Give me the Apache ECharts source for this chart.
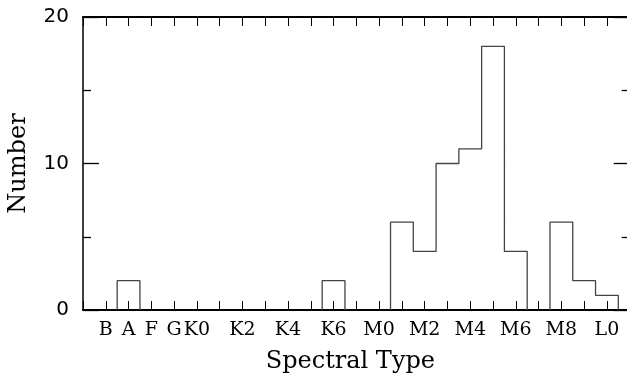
<!DOCTYPE html>
<html lang="en">

<head>
    <meta charset="UTF-8">
    <title>Spectral Type Histogram</title>
    <script type="text/javascript" src="https://cdn.jsdelivr.net/npm/echarts@6.0.0/dist/echarts.min.js"></script>
</head>

<body style="margin:0;">
<div id="main" style="width:627px;height:381px;"></div>
</body>
<script type="text/javascript">
    // one bin per spectral subtype, index 0 = B ... 22 = L0
    const spectralTypes = ['B', 'A', 'F', 'G', 'K0', 'K1', 'K2', 'K3', 'K4', 'K5', 'K6', 'K7',
        'M0', 'M1', 'M2', 'M3', 'M4', 'M5', 'M6', 'M7', 'M8', 'M9', 'L0'];
    const counts = [0, 2, 0, 0, 0, 0, 0, 0, 0, 0, 2, 0,
        0, 6, 4, 10, 11, 18, 4, 0, 6, 2, 1];
    // labels written under the axis
    const tickLabels = ['B', 'A', 'F', 'G', 'K0', 'K2', 'K4', 'K6', 'M0', 'M2', 'M4', 'M6', 'M8', 'L0'];

    // outline of the histogram, broken where the count drops to zero
    const stepData = [];
    counts.forEach((c, i) => {
        if (c === 0) return;
        const prev = i > 0 ? counts[i - 1] : 0;
        const next = i < counts.length - 1 ? counts[i + 1] : 0;
        if (prev === 0) stepData.push([i - 0.5, 0]);
        stepData.push([i - 0.5, c], [i + 0.5, c]);
        if (next === 0) stepData.push([i + 0.5, 0], [i + 0.5, '-']);
    });

    const myChart = echarts.init(document.getElementById('main'));

    const tickStyle = {color: '#000', width: 1};
    const xAxisBase = {
        type: 'value',
        min: -1,
        max: 23,
        interval: 1,
        splitLine: {show: false},
        axisLine: {onZero: false, lineStyle: {color: '#000', width: 2}},
        axisTick: {inside: true, length: 9, lineStyle: tickStyle},
    };
    const yAxisBase = {
        type: 'value',
        min: 0,
        max: 20,
        interval: 10,
        splitLine: {show: false},
        axisLine: {show: true, onZero: false, lineStyle: {color: '#000', width: 1.5}},
        axisTick: {inside: true, length: 16, lineStyle: {color: '#000', width: 1.3}},
        minorTick: {show: true, splitNumber: 2, length: 8, lineStyle: {color: '#000', width: 1.3}},
        minorSplitLine: {show: false},
    };

    const option = {
        backgroundColor: '#fff',
        animation: false,
        grid: {left: 83, top: 17, width: 546.7, height: 293, containLabel: false, outerBoundsMode: 'none'},
        xAxis: [Object.assign({}, xAxisBase, {
            position: 'bottom',
            name: 'Spectral Type',
            nameLocation: 'middle',
            nameGap: 40,
            nameTextStyle: {fontFamily: 'DejaVu Serif', fontSize: 24, color: '#000', padding: [0, 12, 0, 0]},
            axisLabel: {
                margin: 11,
                fontFamily: 'DejaVu Serif',
                fontSize: 19,
                color: '#000',
                formatter: (v) => {
                    const name = spectralTypes[v];
                    return tickLabels.includes(name) ? name : '';
                }
            }
        }), Object.assign({}, xAxisBase, {
            position: 'top',
            axisLabel: {show: false}
        })],
        yAxis: [Object.assign({}, yAxisBase, {
            position: 'left',
            name: 'Number',
            nameLocation: 'middle',
            nameGap: 52,
            nameTextStyle: {fontFamily: 'DejaVu Serif', fontSize: 24, color: '#000'},
            axisLabel: {margin: 14, fontFamily: 'DejaVu Sans', fontSize: 20, color: '#000'}
        }), Object.assign({}, yAxisBase, {
            position: 'right',
            axisLabel: {show: false}
        })],
        series: [{
            type: 'line',
            data: stepData,
            symbol: 'none',
            connectNulls: false,
            lineStyle: {color: '#444', width: 1.3},
            z: 3
        }]
    };

    myChart.setOption(option);
</script>

</html>
